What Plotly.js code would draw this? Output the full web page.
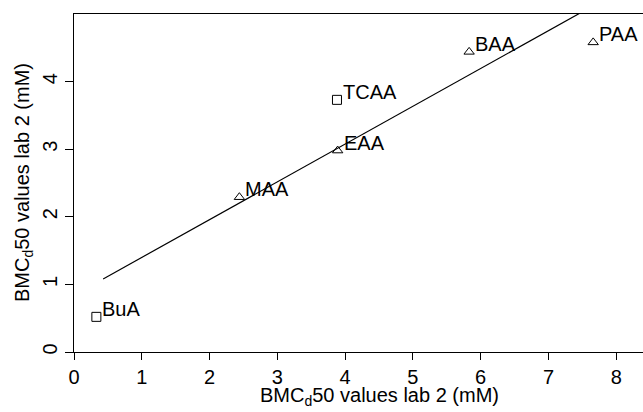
<!DOCTYPE html>
<html>
<head>
<meta charset="utf-8">
<script src="https://cdn.plot.ly/plotly-3.0.1.min.js"></script>
<style>
html,body{margin:0;padding:0;overflow:hidden;background:#fff;width:643px;height:412px;}
#chart{width:700px;height:412px;}
</style>
</head>
<body>
<div id="chart"></div>
<script>
// Data
const labels   = ["BuA", "MAA", "EAA", "TCAA", "BAA", "PAA"];
const xValues  = [0.33, 2.44, 3.89, 3.88, 5.83, 7.66];
const yValues  = [0.52, 2.29, 2.98, 3.73, 4.44, 4.58];
const symbols  = ["square-open", "triangle-up-open", "triangle-up-open", "square-open", "triangle-up-open", "triangle-up-open"];
const fitX     = [0.43, 7.66];
const fitSlope = 0.559;
const fitIntercept = 0.84;
const xTicks   = [0, 1, 2, 3, 4, 5, 6, 7, 8];
const yTicks   = [0, 1, 2, 3, 4];
const xTitle = "BMC<sub>d</sub>50 values lab 2 (mM)";
const yTitle = "BMC<sub>d</sub>50 values lab 2 (mM)";

const fitY = fitX.map(x => fitIntercept + fitSlope * x);
const FONT = "Liberation Sans, Arial, sans-serif";
const FS = 20;

const traces = [
  {
    x: fitX, y: fitY, mode: "lines", type: "scatter",
    line: {color: "#000", width: 1.2}, hoverinfo: "skip", showlegend: false
  },
  {
    x: xValues, y: yValues, mode: "markers", type: "scatter",
    marker: {symbol: symbols, size: 9, color: "#000", line: {color: "#000", width: 1}},
    showlegend: false
  }
];

const annotations = labels.map((t, i) => ({
  x: xValues[i], y: yValues[i], xref: "x", yref: "y",
  text: t, showarrow: false, xanchor: "left", yanchor: "middle",
  xshift: 4, yshift: 8,
  font: {family: FONT, size: FS, color: "#000"}
}));
annotations.push({
  xref: "paper", yref: "paper", x: 0.5, y: 0, xanchor: "center", yanchor: "middle",
  yshift: -44, text: xTitle, showarrow: false,
  font: {family: FONT, size: FS, color: "#000"}
});
annotations.push({
  xref: "paper", yref: "paper", x: 0, y: 0.5, xanchor: "center", yanchor: "middle",
  xshift: -51, textangle: -90, text: yTitle, showarrow: false,
  font: {family: FONT, size: FS, color: "#000"}
});

const layout = {
  width: 700, height: 412,
  margin: {l: 74, r: 16, t: 14, b: 60, pad: 0},
  paper_bgcolor: "#fff", plot_bgcolor: "#fff",
  font: {family: FONT, size: FS, color: "#000"},
  xaxis: {
    range: [0, 9], tickvals: xTicks, ticktext: xTicks.map(String),
    showgrid: false, zeroline: false,
    showline: true, linecolor: "#000", linewidth: 1.2, mirror: true,
    ticks: "outside", ticklen: 7, tickwidth: 1, tickcolor: "#000",
    tickfont: {family: FONT, size: FS}
  },
  yaxis: {
    range: [0, 5], tickvals: yTicks, ticktext: yTicks.map(String),
    tickangle: -90,
    showgrid: false, zeroline: false,
    showline: true, linecolor: "#000", linewidth: 1.2, mirror: true,
    ticks: "outside", ticklen: 8, tickwidth: 1, tickcolor: "#000",
    tickfont: {family: FONT, size: FS}
  },
  annotations: annotations
};

Plotly.newPlot("chart", traces, layout, {staticPlot: true, displayModeBar: false});
</script>
</body>
</html>
